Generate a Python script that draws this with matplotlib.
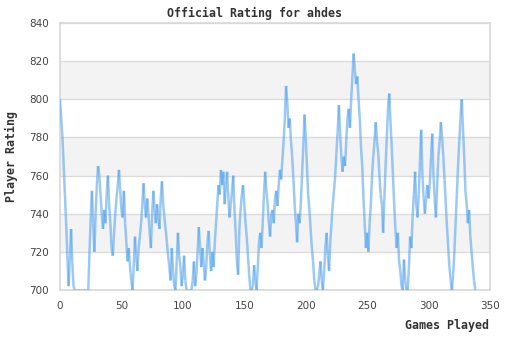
import numpy as np
import matplotlib.pyplot as plt
from matplotlib.collections import LineCollection

# rating after each game played
ratings = [
    800, 790, 780, 765, 750, 735, 718, 702, 716, 732,
    715, 702, 700, 700, 700, 700, 700, 700, 700, 700,
    700, 700, 700, 700, 720, 738, 752, 735, 720, 740,
    755, 765, 760, 750, 740, 732, 742, 735, 750, 760,
    745, 735, 722, 718, 730, 740, 748, 755, 763, 752,
    742, 738, 752, 735, 725, 715, 722, 712, 705, 700,
    712, 728, 718, 710, 722, 728, 735, 745, 756, 745,
    738, 748, 740, 730, 722, 740, 752, 742, 735, 745,
    738, 732, 748, 757, 745, 738, 732, 725, 718, 712,
    705, 722, 710, 702, 700, 715, 730, 718, 712, 702,
    708, 718, 705, 700, 700, 700, 700, 700, 705, 715,
    702, 708, 720, 733, 722, 712, 722, 714, 705, 712,
    725, 731, 718, 710, 720, 712, 725, 735, 745, 755,
    750, 763, 755, 762, 745, 755, 762, 748, 738, 745,
    752, 760, 742, 730, 715, 708, 732, 742, 750, 755,
    745, 735, 728, 718, 708, 700, 700, 702, 713, 705,
    700, 712, 725, 730, 722, 735, 750, 762, 752, 745,
    735, 728, 740, 742, 735, 748, 752, 744, 755, 763,
    758, 768, 778, 790, 807, 798, 785, 790, 778, 770,
    758, 745, 735, 725, 740, 735, 745, 760, 775, 792,
    780, 765, 750, 742, 732, 722, 715, 705, 700, 700,
    702, 708, 715, 705, 700, 710, 722, 730, 718, 710,
    725, 735, 745, 752, 760, 772, 783, 797, 782, 770,
    762, 770, 765, 778, 790, 795, 785, 800, 812, 824,
    815, 808, 812, 800, 790, 775, 765, 748, 735, 722,
    730, 720, 735, 745, 760, 770, 778, 788, 778, 772,
    760, 750, 745, 730, 748, 765, 780, 795, 803, 788,
    775, 760, 745, 732, 722, 730, 715, 710, 702, 700,
    716, 705, 700, 700, 712, 728, 722, 738, 750, 762,
    745, 738, 750, 768, 784, 760, 748, 740, 748, 755,
    748, 756, 770, 782, 760, 748, 738, 755, 770, 778,
    788, 780, 770, 758, 745, 733, 722, 712, 705, 700,
    708, 720, 735, 750, 765, 778, 790, 800, 785, 770,
    752, 745, 735, 742, 728, 720, 712, 705, 700,
]
games = np.arange(len(ratings))

y_ticks = list(range(700, 841, 20))
x_ticks = list(range(0, 351, 50))

fig = plt.figure(figsize=(5.1, 3.4), dpi=100)
ax = fig.add_axes([60 / 510, 50 / 340, 430 / 510, 267 / 340])

# alternating shaded bands
for lo in y_ticks[1:-1:2]:
    ax.axhspan(lo, lo + 20, color='#f3f3f3', lw=0, zorder=0)
ax.grid(axis='y', color='#dcdcdc', lw=1, zorder=1)
ax.set_axisbelow(True)

# segments drawn one by one so overlaps come out darker
pts = np.column_stack([games, ratings])
segs = np.stack([pts[:-1], pts[1:]], axis=1)
lc = LineCollection(segs, colors='#5aa6ee', alpha=0.6, linewidths=1.8,
                    capstyle='butt', zorder=3)
ax.add_collection(lc)

ax.set_xlim(0, 350)
ax.set_ylim(700, 840)
ax.set_xticks(x_ticks)
ax.set_yticks(y_ticks)
ax.tick_params(length=0, labelsize=7.5, labelcolor='#444444')
ax.tick_params(axis='y', pad=8)
ax.tick_params(axis='x', pad=8)
for s in ax.spines.values():
    s.set_color('#d8d8d8')
    s.set_linewidth(1.2)

mono = dict(family='DejaVu Sans Mono', weight='bold', size=8.4, color='#333333')
fig.text(0.5, 1 - 13 / 340, 'Official Rating for ahdes', ha='center', va='center', **mono)
fig.text(489 / 510, 1 - 326 / 340, 'Games Played', ha='right', va='center', **mono)
fig.text(11 / 510, 1 - 157 / 340, 'Player Rating', rotation=90, ha='center', va='center', **mono)

fig.savefig('out.png', dpi=100)
